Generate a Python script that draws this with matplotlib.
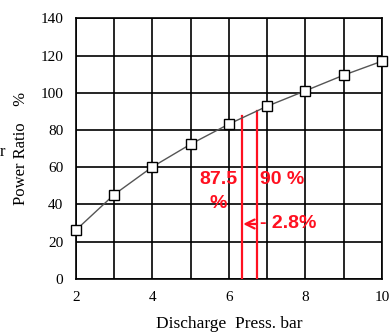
import matplotlib
matplotlib.use("Agg")
import matplotlib.pyplot as plt

# discharge pressure (bar) vs power ratio (%)
press = [2, 3, 4, 5, 6, 7, 8, 9, 10]
power = [26.2, 45.3, 60.2, 72.4, 83.2, 92.8, 101.1, 109.5, 117.0]

# operating points marked in red
mark_press = [6.34, 6.73]
mark_power = [87.5, 90.0]

fig = plt.figure(figsize=(3.89, 3.34), dpi=100)
ax = fig.add_axes([0.195, 0.165, 0.787, 0.78])

serif = "Liberation Serif"
sans = "Liberation Sans"
red = "#ff1020"

ax.plot(press, power, color="#555555", lw=1.0, marker="s", ms=7.5,
        mfc="white", mec="black", mew=1.0, zorder=4, clip_on=False)

for xp, yp in zip(mark_press, mark_power):
    ax.plot([xp, xp], [0, yp], color=red, lw=1.6, zorder=3)

ax.text(6.22, 53.5, "87.5", color=red, fontsize=14, fontweight="bold",
        family=sans, ha="right", va="center")
ax.text(5.72, 40.5, "%", color=red, fontsize=14, fontweight="bold",
        family=sans, ha="center", va="center")
ax.text(6.8, 53.5, "90 %", color=red, fontsize=14, fontweight="bold",
        family=sans, ha="left", va="center")
ax.annotate("", xy=(6.3, 29.5), xytext=(6.8, 29.5),
            arrowprops=dict(arrowstyle="->", color=red, lw=1.6, mutation_scale=16))
ax.text(6.82, 29.5, "- 2.8%", color=red, fontsize=14, fontweight="bold",
        family=sans, ha="left", va="center")

ax.set_xlim(2, 10)
ax.set_ylim(0, 140)
ax.set_xticks(range(2, 11), minor=True)
ax.set_xticks([2, 4, 6, 8, 10])
ax.set_yticks(range(0, 141, 20))
ax.grid(True, which="both", color="black", lw=1.2)
ax.tick_params(which="both", length=0, pad=9, labelsize=11)
for lab in ax.get_xticklabels() + ax.get_yticklabels():
    lab.set_family(serif)
for s in ax.spines.values():
    s.set_linewidth(1.2)

ax.set_xlabel("Discharge  Press. bar", family=serif, fontsize=12.5, labelpad=8)
ax.set_ylabel("Power Ratio    %", family=serif, fontsize=12, labelpad=8)
fig.text(0.0, 0.545, "r", family=serif, fontsize=12, ha="left", va="center")

fig.savefig("out.png", dpi=100)
